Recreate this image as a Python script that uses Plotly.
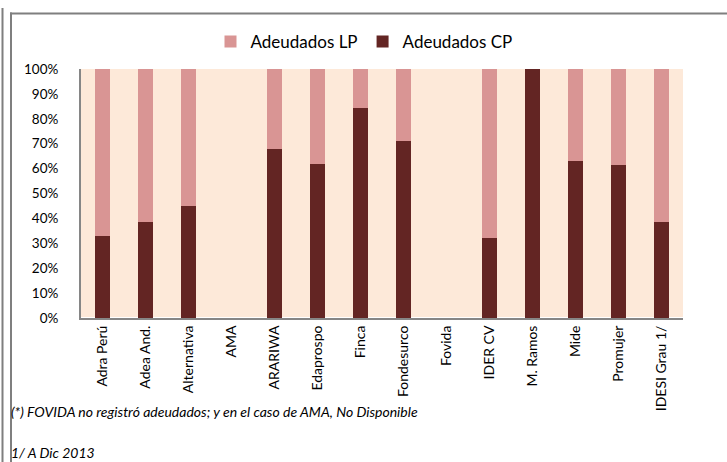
import plotly.graph_objects as go

categories = ["Adra Perú", "Adea And.", "Alternativa", "AMA", "ARARIWA", "Edaprospo",
              "Finca", "Fondesurco", "Fovida", "IDER CV", "M. Ramos", "Mide",
              "Promujer", "IDESI Grau 1/"]
adeudados_cp = [0.33, 0.385, 0.45, 0, 0.68, 0.62, 0.845, 0.71, 0, 0.32, 1.0, 0.63, 0.615, 0.385]
adeudados_lp = [0.67, 0.615, 0.55, 0, 0.32, 0.38, 0.155, 0.29, 0, 0.68, 0.0, 0.37, 0.385, 0.615]
y_ticks = [0, 0.1, 0.2, 0.3, 0.4, 0.5, 0.6, 0.7, 0.8, 0.9, 1.0]

W, H = 727, 462
L, R, T, B = 81, 683, 69, 318
def px(x):
    return (x - L) / (R - L)
def py(y):
    return (B - y) / (B - T)

FONT = "Lato"
fig = go.Figure()
fig.add_trace(go.Bar(x=categories, y=adeudados_cp, name="Adeudados CP",
                     marker=dict(color="#632523", line=dict(width=0)), legendrank=2))
fig.add_trace(go.Bar(x=categories, y=adeudados_lp, name="Adeudados LP",
                     marker=dict(color="#D99594", line=dict(width=0)), legendrank=1))

frame_color = "#7f7f7f"
shapes = [
    dict(type="line", xref="paper", yref="paper", x0=px(10), x1=px(740), y0=py(13.5), y1=py(13.5),
         line=dict(color=frame_color, width=2), layer="above"),
    dict(type="line", xref="paper", yref="paper", x0=px(11), x1=px(11), y0=py(12.5), y1=py(470),
         line=dict(color=frame_color, width=2), layer="above"),
    dict(type="line", xref="paper", yref="paper", x0=px(2.5), x1=px(2.5), y0=py(8), y1=py(470),
         line=dict(color=frame_color, width=2), layer="above"),
]

fig.update_layout(
    width=W, height=H,
    barmode="stack", bargap=0.67,
    margin=dict(l=L, r=W - R, t=T, b=H - B, pad=0, autoexpand=False),
    paper_bgcolor="white", plot_bgcolor="#FDE9D9",
    font=dict(family=FONT, size=13, color="#000000"),
    showlegend=True,
    legend=dict(orientation="h", xref="container", yref="container",
                x=364 / W, xanchor="center", y=1 - 42 / H, yanchor="middle",
                font=dict(family=FONT, size=17), itemwidth=30, traceorder="normal",
                bgcolor="rgba(0,0,0,0)"),
    xaxis=dict(tickangle=-90, showline=True, linecolor="#868686", linewidth=2,
               ticks="", tickfont=dict(family=FONT, size=14), showgrid=False, automargin=False),
    yaxis=dict(range=[0, 1], tickvals=y_ticks, tickformat=".0%", showline=True,
               linecolor="#868686", linewidth=2, showgrid=False, ticks="",
               tickfont=dict(family=FONT, size=13.5), ticklabelstandoff=18, automargin=False),
    shapes=shapes,
    annotations=[
        dict(text="<i>(*) FOVIDA no registró adeudados; y en el caso de AMA, No Disponible</i>",
             xref="paper", yref="paper", x=px(9), y=py(411), xanchor="left", yanchor="middle",
             showarrow=False, font=dict(family=FONT, size=14)),
        dict(text="<i>1/ A Dic 2013</i>",
             xref="paper", yref="paper", x=px(9), y=py(452), xanchor="left", yanchor="middle",
             showarrow=False, font=dict(family=FONT, size=14)),
    ],
)
fig.write_html("out.html", config={"displayModeBar": False},
               post_script="document.body.style.margin='0';document.body.style.overflow='hidden';")
